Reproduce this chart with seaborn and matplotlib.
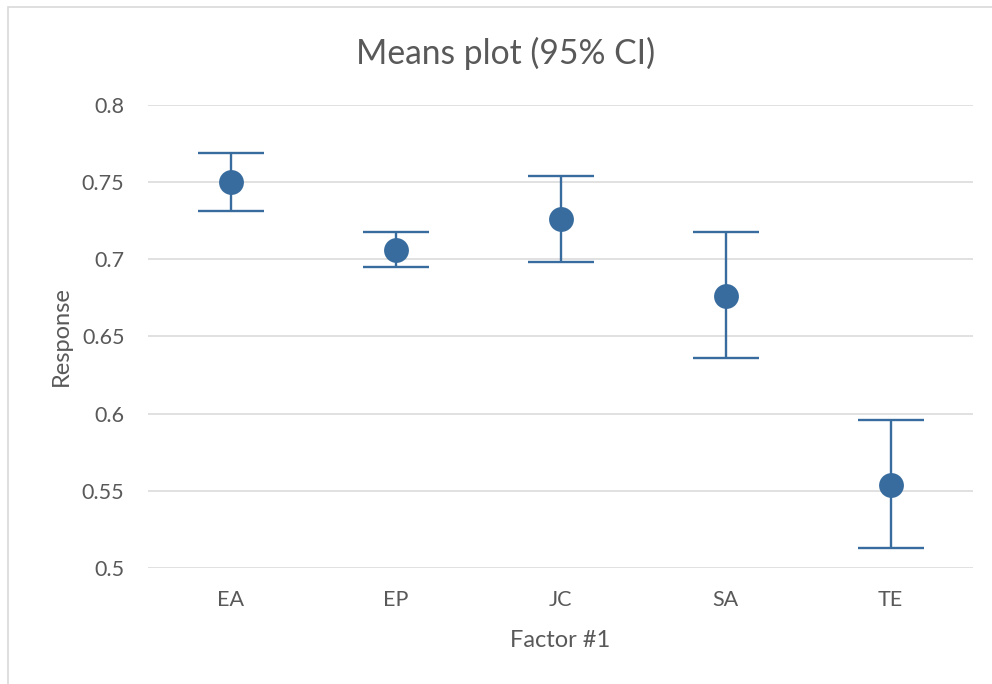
import matplotlib
matplotlib.use("Agg")
import matplotlib.pyplot as plt
import seaborn as sns
import pandas as pd
from matplotlib.patches import Rectangle

# means and 95% CI bounds
factors = ["EA", "EP", "JC", "SA", "TE"]
means = [0.750, 0.706, 0.726, 0.676, 0.554]
lower = [0.731, 0.695, 0.698, 0.636, 0.513]
upper = [0.769, 0.718, 0.754, 0.718, 0.596]

blue = "#386C9E"
grey = "#595959"

sns.set_theme(style="whitegrid")
plt.rcParams["font.family"] = ["Lato", "DejaVu Sans"]

df = pd.DataFrame({"Factor #1": factors, "Response": means})

fig = plt.figure(figsize=(9.92, 6.84), dpi=100)
ax = fig.add_axes([148 / 992, 116 / 684, 825 / 992, 463 / 684])

# error bars (caps) behind the markers
yerr = [[m - lo for m, lo in zip(means, lower)], [hi - m for m, hi in zip(means, upper)]]
ax.errorbar(factors, means, yerr=yerr, fmt="none", ecolor=blue,
            elinewidth=1.7, capsize=24, capthick=1.7, zorder=2)
sns.scatterplot(data=df, x="Factor #1", y="Response", ax=ax, color=blue,
                s=320, edgecolor=blue, linewidth=0, zorder=3)

ax.set_xlim(-0.5, 4.5)
ax.set_ylim(0.5, 0.8)
ax.set_yticks([0.5, 0.55, 0.6, 0.65, 0.7, 0.75, 0.8])
ax.set_yticklabels(["0.5", "0.55", "0.6", "0.65", "0.7", "0.75", "0.8"])
ax.grid(axis="y", color="#D9D9D9", linewidth=1.1)
ax.grid(axis="x", visible=False)
for s in ax.spines.values():
    s.set_visible(False)
ax.tick_params(axis="y", length=0, pad=17, labelsize=15.5, labelcolor=grey)
ax.tick_params(axis="x", length=0, pad=16, labelsize=15.5, labelcolor=grey)

ax.set_xlabel("Factor #1", fontsize=17, color=grey, labelpad=14)
ax.set_ylabel("Response", fontsize=17, color=grey, labelpad=7)
fig.text(506 / 992, 1 - 53 / 684, "Means plot (95% CI)", fontsize=24.2,
         color=grey, ha="center", va="center")

# chart area border (cut by the image on right and bottom)
fig.patches.append(Rectangle((8 / 992, -0.05), 1.2, 677 / 684 + 0.05,
                             transform=fig.transFigure, fill=False,
                             edgecolor="#D9D9D9", linewidth=1.2))

fig.savefig("out.png", dpi=100, facecolor="white")
